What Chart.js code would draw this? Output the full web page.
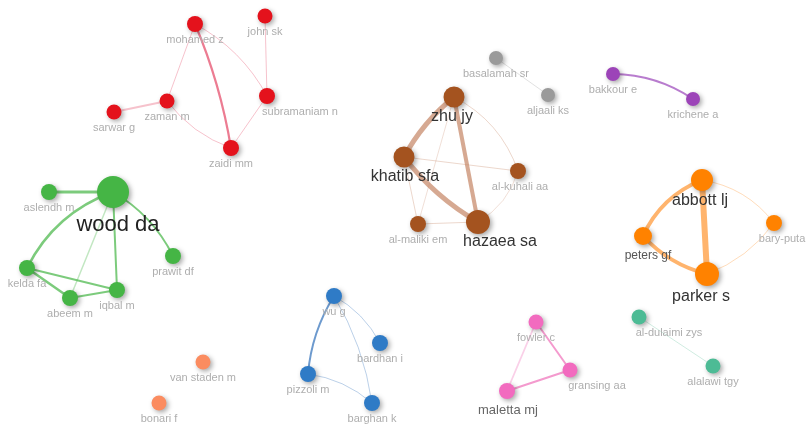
<!DOCTYPE html>
<html>
<head>
<meta charset="utf-8">
<script src="https://cdn.jsdelivr.net/npm/chart.js@4/dist/chart.umd.min.js"></script>
<style>
    body { margin: 0; background: #fff; }
    #net { display: block; }
</style>
</head>
<body>
<canvas id="net" width="806" height="428"></canvas>
<script>
"use strict";

/* authors (nodes) */
var authors = ['mohamed z', 'john sk', 'zaman m', 'subramaniam n', 'sarwar g', 'zaidi mm',
    'wood da', 'aslendh m', 'kelda fa', 'abeem m', 'iqbal m', 'prawit df',
    'zhu jy', 'khatib sfa', 'al-kuhali aa', 'al-maliki em', 'hazaea sa',
    'basalamah sr', 'aljaali ks',
    'bakkour e', 'krichene a',
    'abbott lj', 'peters gf', 'parker s', 'bary-putam r',
    'al-dulaimi zys', 'alalawi tgy',
    'fowler c', 'gransing aa', 'maletta mj',
    'wu g', 'bardhan i', 'pizzoli m', 'barghan k',
    'van staden m', 'bonari f'];
var nodeX = [195, 265, 167, 267, 114, 231,
    113, 49, 27, 70, 117, 173,
    454, 404, 518, 418, 478,
    496, 548,
    613, 693,
    702, 643, 707, 774,
    639, 713,
    536, 570, 507,
    334, 380, 308, 372,
    203, 159];
var nodeY = [24, 16, 101, 96, 112, 148,
    192, 192, 268, 298, 290, 256,
    97, 157, 171, 224, 222,
    58, 95,
    74, 99,
    180, 236, 274, 223,
    317, 366,
    322, 370, 391,
    296, 343, 374, 403,
    362, 403];
/* weight (number of documents) drives the bubble size */
var weight = [8, 7.5, 7.5, 8, 7.5, 8,
    16, 8, 8, 8, 8, 8,
    10.5, 10.5, 8, 8, 12,
    7, 7,
    7, 7,
    11, 9, 12, 8,
    7.5, 7.5,
    7.5, 7.5, 8,
    8, 8, 8, 8,
    7.5, 7.5];
var cluster = [0, 0, 0, 0, 0, 0,
    1, 1, 1, 1, 1, 1,
    2, 2, 2, 2, 2,
    3, 3,
    4, 4,
    5, 5, 5, 5,
    6, 6,
    7, 7, 7,
    8, 8, 8, 8,
    9, 9];

/* links: from, to, strength, bend */
var links = [
    [0, 5, 2.2, -0.06], [0, 2, 1, 0], [0, 3, 1, -0.15], [1, 3, 1, 0], [2, 4, 1.8, 0], [2, 5, 1, 0.15], [3, 5, 1, 0],
    [6, 7, 3, 0], [6, 8, 2.5, 0.2], [6, 9, 1.5, 0], [6, 10, 2, 0], [6, 11, 2, -0.15], [8, 9, 2.5, 0], [8, 10, 2, 0], [9, 10, 2, 0],
    [12, 13, 5, 0.1], [12, 16, 4, 0], [13, 16, 5, 0.1], [13, 14, 1, 0], [12, 14, 1, -0.2], [13, 15, 1, 0], [15, 16, 1, 0], [15, 12, 0.8, 0], [14, 16, 0.8, -0.2],
    [17, 18, 1, 0],
    [19, 20, 2, -0.15],
    [21, 22, 4, 0.2], [21, 23, 6, 0], [22, 23, 4, 0.15], [21, 24, 1, -0.2], [23, 24, 1, 0.15],
    [25, 26, 1, 0],
    [27, 28, 2, 0], [28, 29, 2, 0], [29, 27, 1.8, 0],
    [30, 32, 2, 0.12], [30, 31, 1, -0.15], [30, 33, 1, -0.1], [32, 33, 1, -0.15]
];

var clusterColors = ['#e4121c', '#45b545', '#a4531f', '#9a9a9a', '#9c44b8', '#ff8200', '#4dbb95', '#f26bbf', '#2f7bc6', '#fb8c60'];
var linkColors = ['rgba(230,80,110,', 'rgba(80,185,80,', 'rgba(200,140,110,', 'rgba(170,170,170,', 'rgba(160,80,190,',
    'rgba(255,155,60,', 'rgba(120,200,170,', 'rgba(240,120,190,', 'rgba(60,120,190,', 'rgba(250,150,110,'];

/* big labels for the central authors */
var bigLabels = {
    'wood da': { size: 22, dx: 5, dy: 33, color: '#222' },
    'zhu jy': { size: 16, dx: -2, dy: 20, color: '#333' },
    'khatib sfa': { size: 16, dx: 1, dy: 20, color: '#333' },
    'hazaea sa': { size: 16, dx: 22, dy: 20, color: '#333' },
    'abbott lj': { size: 16, dx: -2, dy: 21, color: '#333' },
    'parker s': { size: 16, dx: -6, dy: 23, color: '#333' },
    'peters gf': { size: 12, dx: 5, dy: 20, color: '#555' },
    'maletta mj': { size: 13, dx: 1, dy: 19, color: '#666' }
};
var smallShift = { 'subramaniam n': 33, 'al-dulaimi zys': 30, 'bary-putam r': 16, 'gransing aa': 27, 'al-kuhali aa': 2 };

var datasets = [];
for (var c = 0; c < clusterColors.length; c++) {
    var pts = [];
    for (var i = 0; i < authors.length; i++) {
        if (cluster[i] == c) {
            pts.push({ x: nodeX[i], y: nodeY[i], r: weight[i], label: authors[i] });
        }
    }
    datasets.push({
        data: pts,
        backgroundColor: clusterColors[c],
        borderWidth: 0,
        clip: false
    });
}

var linksPlugin = {
    id: 'links',
    beforeDatasetsDraw: function (chart) {
        var ctx = chart.ctx;
        var sx = chart.scales.x, sy = chart.scales.y;
        ctx.save();
        ctx.lineCap = 'round';
        links.forEach(function (l) {
            var x1 = sx.getPixelForValue(nodeX[l[0]]), y1 = sy.getPixelForValue(nodeY[l[0]]);
            var x2 = sx.getPixelForValue(nodeX[l[1]]), y2 = sy.getPixelForValue(nodeY[l[1]]);
            var dx = x2 - x1, dy = y2 - y1;
            var cx = (x1 + x2) / 2 - dy * l[3], cy = (y1 + y2) / 2 + dx * l[3];
            var a = l[2] >= 2 ? 0.75 : 0.35;
            ctx.strokeStyle = linkColors[cluster[l[0]]] + a + ')';
            ctx.lineWidth = l[2];
            ctx.beginPath();
            ctx.moveTo(x1, y1);
            ctx.quadraticCurveTo(cx, cy, x2, y2);
            ctx.stroke();
        });
        ctx.restore();
    }
};

var shadowPlugin = {
    id: 'shadow',
    beforeDatasetDraw: function (chart) {
        chart.ctx.save();
        chart.ctx.shadowColor = 'rgba(0,0,0,0.35)';
        chart.ctx.shadowBlur = 5;
        chart.ctx.shadowOffsetX = 2;
        chart.ctx.shadowOffsetY = 2;
    },
    afterDatasetDraw: function (chart) {
        chart.ctx.restore();
    }
};

var labelsPlugin = {
    id: 'nodeLabels',
    afterDatasetsDraw: function (chart) {
        var ctx = chart.ctx;
        ctx.save();
        ctx.textAlign = 'center';
        ctx.textBaseline = 'middle';
        chart.data.datasets.forEach(function (ds, di) {
            var meta = chart.getDatasetMeta(di);
            meta.data.forEach(function (el, k) {
                var name = ds.data[k].label;
                var b = bigLabels[name];
                if (b) {
                    ctx.font = b.size + 'px "Liberation Sans", Arial, sans-serif';
                    ctx.fillStyle = b.color;
                    ctx.fillText(name, el.x + b.dx, el.y + b.dy);
                } else {
                    ctx.font = '11px "Liberation Sans", Arial, sans-serif';
                    ctx.fillStyle = '#aeaeae';
                    ctx.fillText(name, el.x + (smallShift[name] || 0), el.y + 16);
                }
            });
        });
        ctx.restore();
    }
};

var net = new Chart(document.getElementById('net'), {
    type: 'bubble',
    data: { datasets: datasets },
    plugins: [linksPlugin, shadowPlugin, labelsPlugin],
    options: {
        responsive: false,
        animation: false,
        events: [],
        layout: { padding: 0, autoPadding: false },
        plugins: { legend: { display: false }, tooltip: { enabled: false } },
        scales: {
            x: { type: 'linear', min: 0, max: 806, display: false },
            y: { type: 'linear', min: 0, max: 428, reverse: true, display: false }
        }
    }
});
</script>
</body>
</html>
